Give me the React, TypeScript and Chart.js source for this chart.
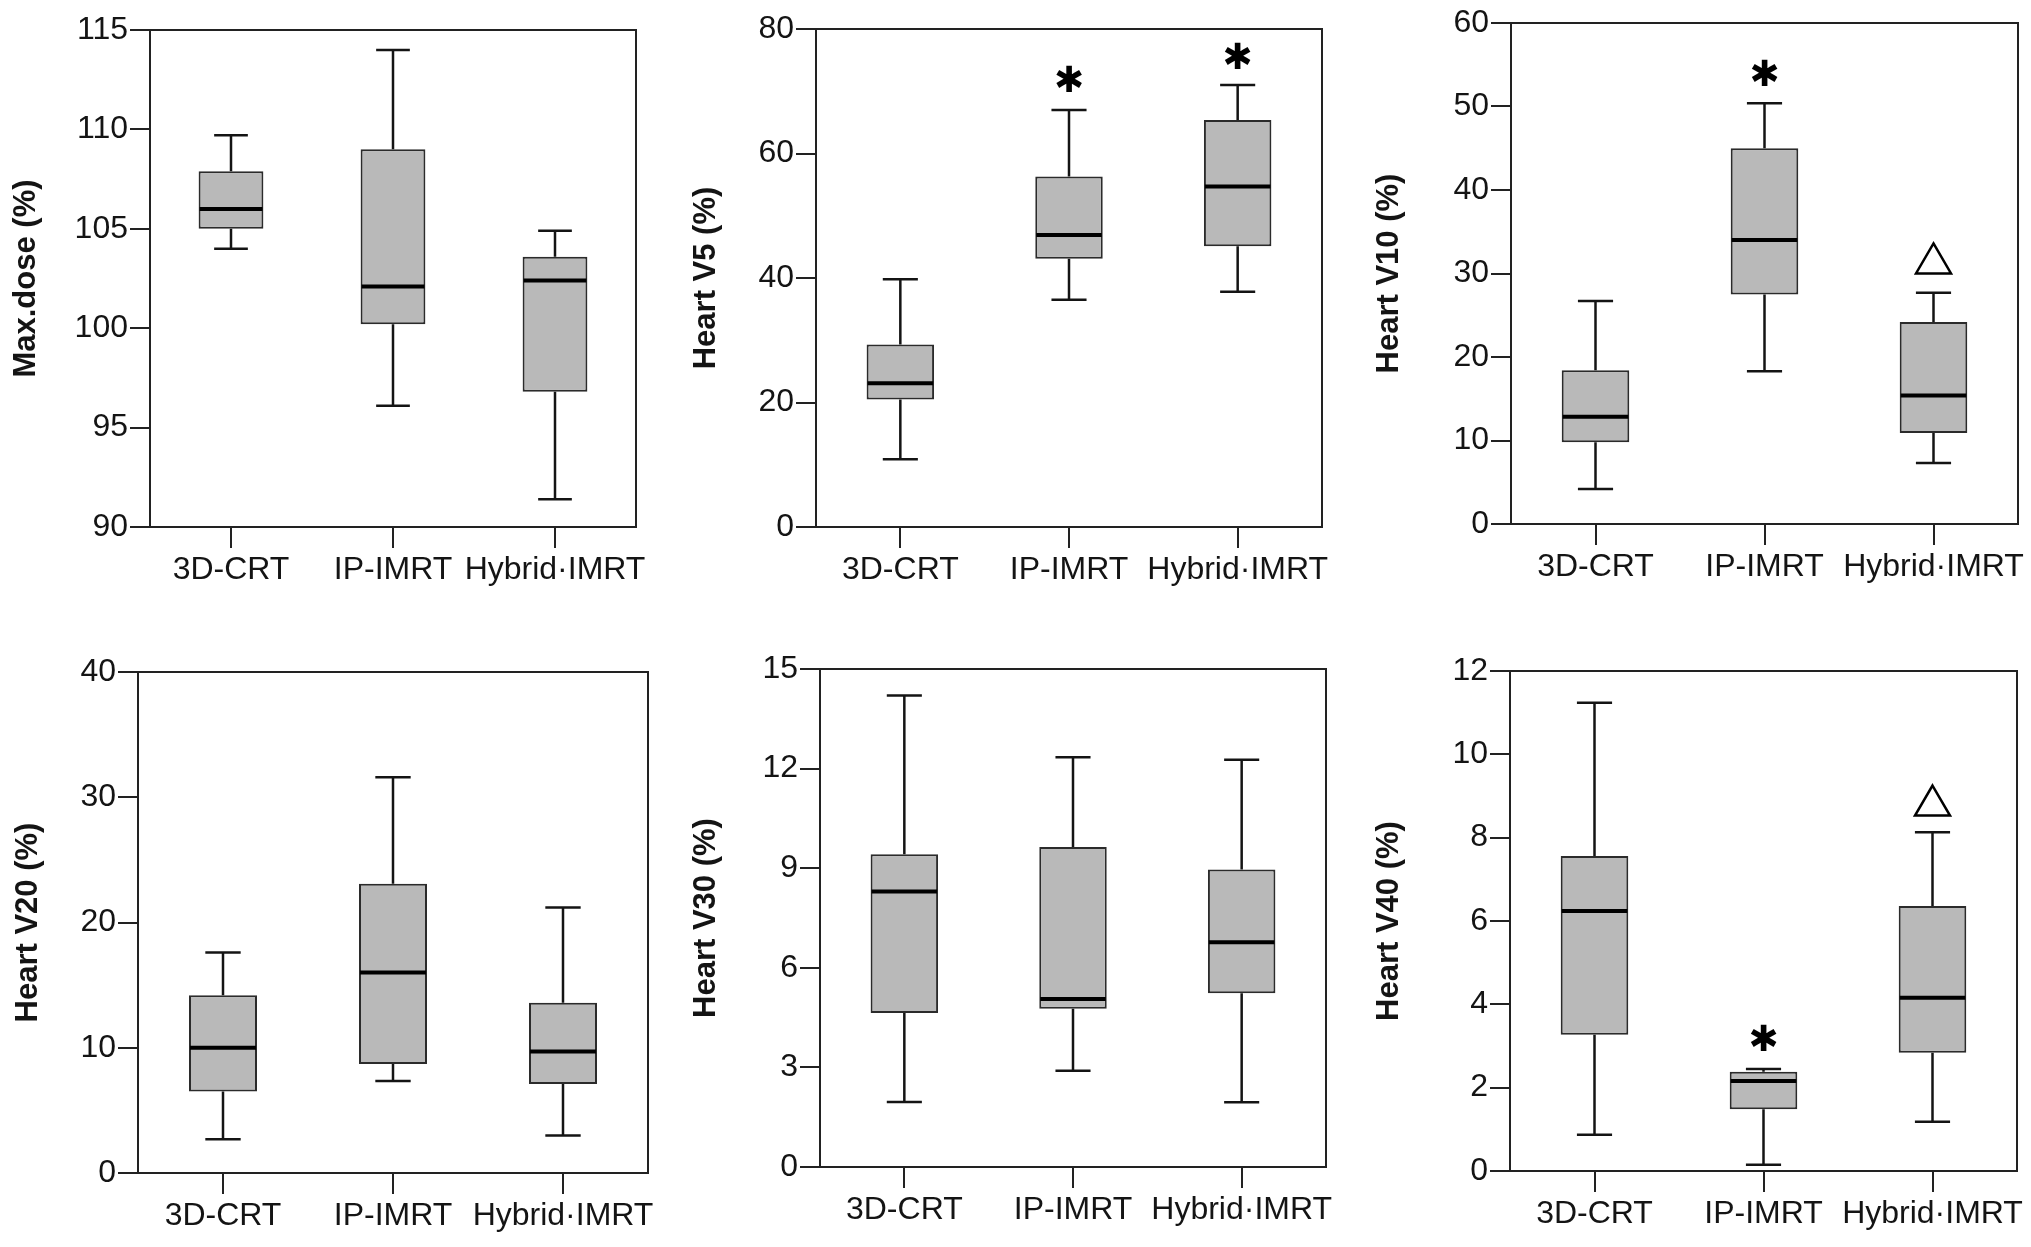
import React, { useEffect, useRef } from "react";
import { Chart, registerables } from "chart.js";
Chart.register(...registerables);

const FONT = "'Liberation Sans', Arial, sans-serif";
const INK = "#141414";

const categories = ["3D-CRT", "IP-IMRT", "Hybrid·IMRT"];

// Max.dose (%)
const maxDoseLow = [104.0, 96.1, 91.4];
const maxDoseQ1 = [105.0, 100.2, 96.8];
const maxDoseMedian = [106.0, 102.1, 102.4];
const maxDoseQ3 = [107.9, 109.0, 103.6];
const maxDoseHigh = [109.7, 114.0, 104.9];
const maxDoseStars: (number | null)[] = [null, null, null];
const maxDoseTriangles: (number | null)[] = [null, null, null];

// Heart V5 (%)
const v5Low = [10.9, 36.5, 37.8];
const v5Q1 = [20.5, 43.1, 45.1];
const v5Median = [23.1, 46.9, 54.7];
const v5Q3 = [29.3, 56.3, 65.4];
const v5High = [39.8, 67.0, 71.0];
const v5Stars: (number | null)[] = [null, 71.4, 75.1];
const v5Triangles: (number | null)[] = [null, null, null];

// Heart V10 (%)
const v10Low = [4.2, 18.3, 7.3];
const v10Q1 = [9.8, 27.5, 10.9];
const v10Median = [12.85, 34.0, 15.4];
const v10Q3 = [18.4, 45.0, 24.2];
const v10High = [26.7, 50.4, 27.7];
const v10Stars: (number | null)[] = [null, 53.6, null];
const v10Triangles: (number | null)[] = [null, null, 31.8];

// Heart V20 (%)
const v20Low = [2.7, 7.35, 3.0];
const v20Q1 = [6.5, 8.7, 7.1];
const v20Median = [10.0, 16.0, 9.7];
const v20Q3 = [14.2, 23.1, 13.6];
const v20High = [17.6, 31.6, 21.2];
const v20Stars: (number | null)[] = [null, null, null];
const v20Triangles: (number | null)[] = [null, null, null];

// Heart V30 (%)
const v30Low = [1.96, 2.9, 1.95];
const v30Q1 = [4.64, 4.77, 5.23];
const v30Median = [8.3, 5.06, 6.77];
const v30Q3 = [9.42, 9.64, 8.96];
const v30High = [14.2, 12.34, 12.27];
const v30Stars: (number | null)[] = [null, null, null];
const v30Triangles: (number | null)[] = [null, null, null];

// Heart V40 (%)
const v40Low = [0.87, 0.15, 1.18];
const v40Q1 = [3.27, 1.48, 2.84];
const v40Median = [6.24, 2.16, 4.16];
const v40Q3 = [7.56, 2.38, 6.36];
const v40High = [11.24, 2.45, 8.13];
const v40Stars: (number | null)[] = [null, 3.11, null];
const v40Triangles: (number | null)[] = [null, null, 8.89];

// Axis ranges
const yMins = [90, 0, 0, 0, 0, 0];
const yMaxs = [115, 80, 60, 40, 15, 12];
const ySteps = [5, 20, 10, 10, 3, 2];
const yTitles = ["Max.dose (%)", "Heart V5 (%)", "Heart V10 (%)", "Heart V20 (%)", "Heart V30 (%)", "Heart V40 (%)"];

type Stats = {
  low: number[]; q1: number[]; med: number[]; q3: number[]; high: number[];
  stars: (number | null)[]; tris: (number | null)[];
};

const stats: Stats[] = [
  { low: maxDoseLow, q1: maxDoseQ1, med: maxDoseMedian, q3: maxDoseQ3, high: maxDoseHigh, stars: maxDoseStars, tris: maxDoseTriangles },
  { low: v5Low, q1: v5Q1, med: v5Median, q3: v5Q3, high: v5High, stars: v5Stars, tris: v5Triangles },
  { low: v10Low, q1: v10Q1, med: v10Median, q3: v10Q3, high: v10High, stars: v10Stars, tris: v10Triangles },
  { low: v20Low, q1: v20Q1, med: v20Median, q3: v20Q3, high: v20High, stars: v20Stars, tris: v20Triangles },
  { low: v30Low, q1: v30Q1, med: v30Median, q3: v30Q3, high: v30High, stars: v30Stars, tris: v30Triangles },
  { low: v40Low, q1: v40Q1, med: v40Median, q3: v40Q3, high: v40High, stars: v40Stars, tris: v40Triangles },
];

// Layout (page pixels): canvas box and desired plot area
type Layout = { cx: number; cy: number; cw: number; ch: number; L: number; T: number; R: number; B: number; titleX: number };
const layouts: Layout[] = [
  { cx: 0, cy: 0, cw: 670, ch: 630, L: 150, T: 30, R: 636, B: 527, titleX: 26 },
  { cx: 670, cy: 0, cw: 675, ch: 630, L: 816, T: 29, R: 1322, B: 527, titleX: 706 },
  { cx: 1345, cy: 0, cw: 686, ch: 630, L: 1511, T: 23, R: 2018, B: 524, titleX: 1389 },
  { cx: 0, cy: 630, cw: 670, ch: 617, L: 138, T: 672, R: 648, B: 1173, titleX: 28 },
  { cx: 670, cy: 630, cw: 675, ch: 617, L: 820, T: 669, R: 1326, B: 1167, titleX: 706 },
  { cx: 1345, cy: 630, cw: 686, ch: 617, L: 1510, T: 671, R: 2017, B: 1171, titleX: 1389 },
];

const X_AXIS_H = 68;
const TITLE_SIZE = 31;

function Panel({ idx }: { idx: number }) {
  const ref = useRef<HTMLCanvasElement | null>(null);
  const lay = layouts[idx];
  useEffect(() => {
    if (!ref.current) return;
    const s = stats[idx];
    const extras = {
      id: "boxExtras" + idx,
      afterDatasetsDraw(chart: any) {
        const ctx = chart.ctx;
        const y = chart.scales.y;
        const meta = chart.getDatasetMeta(0);
        ctx.save();
        meta.data.forEach((bar: any, i: number) => {
          const xc = bar.x;
          const w = bar.width;
          const cap = w * 0.26;
          const yLow = y.getPixelForValue(s.low[i]);
          const yHigh = y.getPixelForValue(s.high[i]);
          const yQ1 = y.getPixelForValue(s.q1[i]);
          const yQ3 = y.getPixelForValue(s.q3[i]);
          const yMed = y.getPixelForValue(s.med[i]);
          ctx.strokeStyle = INK;
          ctx.lineWidth = 2.5;
          ctx.lineCap = "butt";
          ctx.beginPath();
          ctx.moveTo(xc, yQ3); ctx.lineTo(xc, yHigh);
          ctx.moveTo(xc - cap, yHigh); ctx.lineTo(xc + cap, yHigh);
          ctx.moveTo(xc, yQ1); ctx.lineTo(xc, yLow);
          ctx.moveTo(xc - cap, yLow); ctx.lineTo(xc + cap, yLow);
          ctx.stroke();
          ctx.lineWidth = 4;
          ctx.strokeStyle = "#000";
          ctx.beginPath();
          ctx.moveTo(xc - w / 2 + 1, yMed); ctx.lineTo(xc + w / 2 - 1, yMed);
          ctx.stroke();
          const st = s.stars[i];
          if (st !== null && st !== undefined) {
            ctx.fillStyle = "#000";
            ctx.font = "bold 36px 'DejaVu Sans'";
            ctx.textAlign = "center";
            ctx.textBaseline = "middle";
            ctx.fillText("✱", xc, y.getPixelForValue(st));
          }
          const tr = s.tris[i];
          if (tr !== null && tr !== undefined) {
            const ty = y.getPixelForValue(tr);
            ctx.strokeStyle = "#000";
            ctx.fillStyle = "#fff";
            ctx.lineWidth = 2.5;
            ctx.lineJoin = "miter";
            ctx.beginPath();
            ctx.moveTo(xc, ty - 15);
            ctx.lineTo(xc + 17.5, ty + 15);
            ctx.lineTo(xc - 17.5, ty + 15);
            ctx.closePath();
            ctx.fill();
            ctx.stroke();
          }
        });
        ctx.restore();
      },
      afterDraw(chart: any) {
        const { left, top, right, bottom } = chart.chartArea;
        const ctx = chart.ctx;
        ctx.save();
        ctx.strokeStyle = "#222";
        ctx.lineWidth = 2;
        ctx.strokeRect(left, top, right - left, bottom - top);
        ctx.restore();
      },
    };
    const lineH = TITLE_SIZE * 1.2;
    const chart = new Chart(ref.current, {
      type: "bar",
      data: {
        labels: categories,
        datasets: [
          {
            data: categories.map((_, i) => [s.q1[i], s.q3[i]]) as any,
            backgroundColor: "#b9b9b9",
            borderColor: "#2b2b2b",
            borderWidth: 2,
            borderSkipped: false,
            barPercentage: 0.4,
            categoryPercentage: 1.0,
          },
        ],
      },
      options: {
        animation: false,
        responsive: false,
        devicePixelRatio: 1,
        layout: {
          padding: {
            left: 0,
            top: lay.T - lay.cy,
            right: lay.cx + lay.cw - lay.R,
            bottom: lay.cy + lay.ch - lay.B - X_AXIS_H,
          },
        },
        plugins: { legend: { display: false }, tooltip: { enabled: false }, title: { display: false } },
        scales: {
          x: {
            offset: true,
            ticks: { color: INK, font: { family: FONT, size: 32 }, padding: 3, autoSkip: false, maxRotation: 0, minRotation: 0 },
            grid: { offset: false, drawOnChartArea: false, drawTicks: true, tickLength: 21, color: "#222", lineWidth: 2 },
            border: { display: true, color: "#222", width: 2 },
            afterFit: (sc: any) => { sc.height = X_AXIS_H; },
          },
          y: {
            min: yMins[idx],
            max: yMaxs[idx],
            ticks: { stepSize: ySteps[idx], color: INK, font: { family: FONT, size: 32 }, padding: 2 },
            grid: { drawOnChartArea: false, drawTicks: true, tickLength: 20, color: "#222", lineWidth: 2 },
            border: { display: true, color: "#222", width: 2 },
            title: {
              display: true,
              text: yTitles[idx],
              color: INK,
              font: { family: FONT, size: TITLE_SIZE, weight: "bold", lineHeight: 1.2 },
              padding: { top: lay.titleX - lay.cx - lineH / 2, bottom: 0 },
            },
            afterFit: (sc: any) => { sc.width = lay.L - lay.cx; },
          },
        },
      } as any,
      plugins: [extras],
    });
    return () => chart.destroy();
  }, [idx]);
  return (
    <canvas
      ref={ref}
      width={lay.cw}
      height={lay.ch}
      style={{ position: "absolute", left: lay.cx, top: lay.cy, width: lay.cw, height: lay.ch }}
    />
  );
}

export default function App() {
  return (
    <div style={{ position: "absolute", left: 0, top: 0, width: 2031, height: 1247, background: "#fff", overflow: "hidden" }}>
      {layouts.map((_, i) => (
        <Panel key={i} idx={i} />
      ))}
    </div>
  );
}
